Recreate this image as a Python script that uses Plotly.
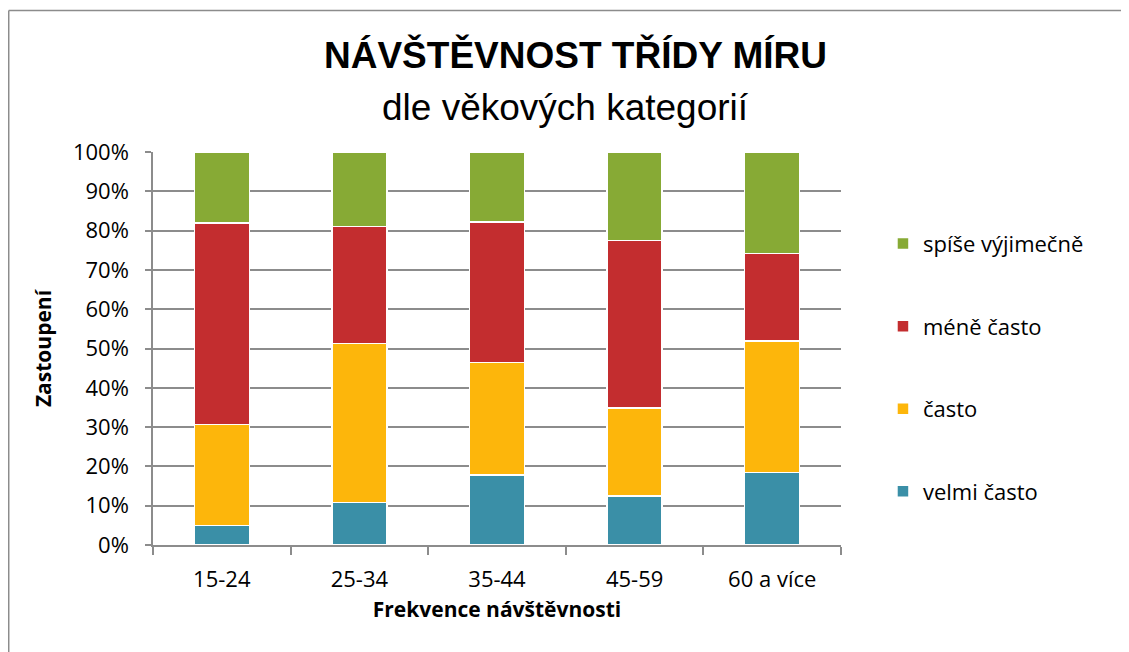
import plotly.graph_objects as go

categories = ["15-24", "25-34", "35-44", "45-59", "60 a více"]
velmi_casto = [4.9, 10.8, 17.8, 12.5, 18.5]
casto = [25.8, 40.5, 28.6, 22.4, 33.4]
mene_casto = [51.2, 29.7, 35.8, 42.6, 22.3]
spise_vyjimecne = [18.1, 19.0, 17.8, 22.5, 25.8]
y_tick_values = [0, 10, 20, 30, 40, 50, 60, 70, 80, 90, 100]
y_tick_labels = ["0%", "10%", "20%", "30%", "40%", "50%", "60%", "70%", "80%", "90%", "100%"]

series = [
    ("velmi často", velmi_casto, "#3A8FA7", 4),
    ("často", casto, "#FDB60B", 3),
    ("méně často", mene_casto, "#C32D2F", 2),
    ("spíše výjimečně", spise_vyjimecne, "#87AA35", 1),
]

fig = go.Figure()
for name, vals, col, rank in series:
    fig.add_trace(go.Bar(
        x=categories, y=vals, name=name, legendgroup=name, legendrank=rank,
        marker=dict(color=col, line=dict(color="white", width=1.5)),
        width=0.4,
    ))

grid = "#8C8C8C"
tick_font = dict(family="Open Sans", size=22, color="black")
border = dict(color="#8C8C8C", width=1.5)

fig.update_layout(
    barmode="stack",
    width=1129, height=652,
    margin=dict(l=145, r=296, t=144, b=115),
    paper_bgcolor="white", plot_bgcolor="white",
    font=tick_font,
    showlegend=True,
    legend=dict(
        x=1.061, xanchor="left", y=0.82, yanchor="top",
        traceorder="grouped", tracegroupgap=51,
        font=tick_font, bgcolor="rgba(0,0,0,0)",
    ),
    xaxis=dict(
        showline=True, linecolor=grid, linewidth=1.5,
        ticks="outside", tickson="boundaries", ticklen=8, tickcolor=grid, tickwidth=1.5,
        tickfont=tick_font, showgrid=False, ticklabelstandoff=14,
        title=dict(text="<b>Frekvence návštěvnosti</b>",
                   font=dict(family="Open Sans", size=21, color="black"), standoff=10),
    ),
    yaxis=dict(
        range=[0, 100], tickmode="array", tickvals=y_tick_values, ticktext=y_tick_labels,
        showline=True, linecolor=grid, linewidth=1.5,
        ticks="outside", ticklen=6, tickcolor=grid, tickwidth=1.5,
        showgrid=True, gridcolor=grid, gridwidth=1.5,
        zeroline=False, tickfont=tick_font, ticklabelstandoff=12,
        title=dict(text="<b>Zastoupení</b>",
                   font=dict(family="Open Sans", size=21, color="black"), standoff=16),
    ),
    annotations=[
        dict(text="<b>NÁVŠTĚVNOST TŘÍDY MÍRU</b>", xref="paper", yref="paper",
             x=0.6134, y=1.2468, xanchor="center", yanchor="middle", showarrow=False,
             font=dict(family="Liberation Sans", size=37, color="black")),
        dict(text="dle věkových kategorií", xref="paper", yref="paper",
             x=0.599, y=1.112, xanchor="center", yanchor="middle", showarrow=False,
             font=dict(family="Liberation Sans", size=37, color="black")),
    ],
    shapes=[
        dict(type="line", xref="paper", yref="paper",
             x0=-0.2097, x1=-0.2097, y0=-0.5, y1=1.360, line=border, layer="below"),
        dict(type="line", xref="paper", yref="paper",
             x0=-0.2097, x1=1.7, y0=1.360, y1=1.360, line=border, layer="below"),
    ],
)

fig.write_html("out.html")
